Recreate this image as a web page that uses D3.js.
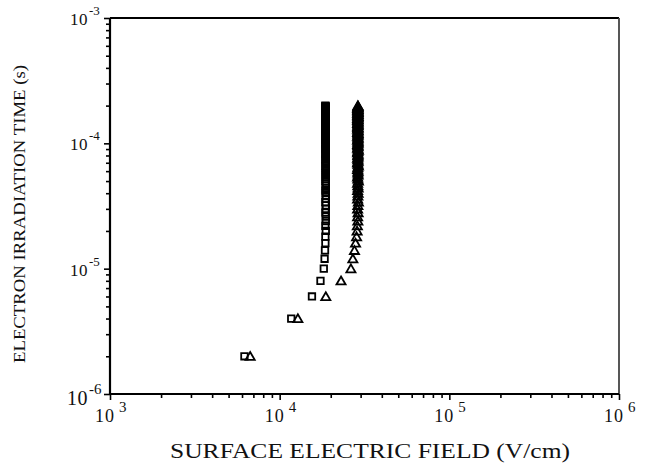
<!DOCTYPE html>
<html>
<head>
<meta charset="utf-8">
<script src="https://cdn.jsdelivr.net/npm/d3@7"></script>
<style>
  body { margin: 0; background: #fff; }
  text { font-family: "Liberation Serif", "DejaVu Serif", serif; fill: #111; }
</style>
</head>
<body>
<div id="chart"></div>
<script>
// irradiation time (microseconds)
var timeUs = [
  2, 4, 6, 8, 10, 12, 14, 16, 18, 20,
  22, 24, 26, 28, 30, 32, 34, 36, 38, 40,
  42, 44, 46, 48, 50, 52, 54, 56, 58, 60,
  62, 64, 66, 68, 70, 72, 74, 76, 78, 80,
  82, 84, 86, 88, 90, 92, 94, 96, 98, 100,
  102, 104, 106, 108, 110, 112, 114, 116, 118, 120,
  122, 124, 126, 128, 130, 132, 134, 136, 138, 140,
  142, 144, 146, 148, 150, 152, 154, 156, 158, 160,
  162, 164, 166, 168, 170, 172, 174, 176, 178, 180,
  182, 184, 186, 188, 190, 192, 194, 196, 198, 200
];

// surface electric field (V/cm), square series
var squareField = [
  6200, 11700, 15500, 17400, 18200, 18400, 18500, 18600, 18600, 18700,
  18600, 18700, 18700, 18600, 18700, 18700, 18600, 18700, 18700, 18700,
  18600, 18700, 18700, 18700, 18600, 18700, 18700, 18700, 18600, 18700,
  18700, 18700, 18600, 18700, 18700, 18700, 18600, 18700, 18700, 18700,
  18600, 18700, 18700, 18700, 18600, 18700, 18700, 18700, 18600, 18700,
  18700, 18700, 18600, 18700, 18700, 18700, 18600, 18700, 18700, 18700,
  18600, 18700, 18700, 18700, 18600, 18700, 18700, 18700, 18600, 18700,
  18700, 18700, 18600, 18700, 18700, 18700, 18600, 18700, 18700, 18700,
  18600, 18700, 18700, 18700, 18600, 18700, 18700, 18700, 18600, 18700,
  18700, 18700, 18600, 18700, 18700, 18700, 18600, 18700, 18600, 18600
];

// surface electric field (V/cm), triangle series
var triangleField = [
  6700, 12800, 18700, 23000, 26300, 27000, 27600, 28000, 28400, 28600,
  28700, 28900, 28800, 29000, 28800, 28900, 29100, 28800, 28900, 29000,
  28800, 29000, 28900, 28800, 29100, 28900, 28800, 29000, 28900, 29000,
  28800, 28900, 29100, 28900, 28800, 29000, 28900, 28800, 29000, 28900,
  29000, 28800, 28900, 29100, 28900, 28800, 29000, 28900, 28800, 29000,
  28900, 29000, 28800, 28900, 29000, 28900, 28800, 29000, 28900, 29000,
  28800, 28900, 29000, 28900, 28800, 29000, 28900, 28800, 29000, 28900,
  29000, 28800, 28900, 29000, 28900, 28800, 29000, 28900, 28800, 29000,
  28900, 29000, 28800, 28900, 29000, 28900, 28800, 29000, 28900, 29000,
  28800, 28900, 29000, 28900, 28800, 29000, 28900, 28900, 29000, 28900
];

var xDecades = [3, 4, 5, 6];
var yDecades = [-3, -4, -5, -6];

var svgWidth = 647;
var svgHeight = 468;

var margin = { top: 18, right: 28, bottom: 74, left: 110 };
var width = svgWidth - margin.left - margin.right;
var height = svgHeight - margin.top - margin.bottom;

var svg = d3.select("#chart")
  .append("svg")
  .attr("width", svgWidth)
  .attr("height", svgHeight);

var chartGroup = svg.append("g")
  .attr("transform", `translate(${margin.left}, ${margin.top})`);

var xScale = d3.scaleLog()
  .domain([1e3, 1e6])
  .range([0, width]);

var yScale = d3.scaleLog()
  .domain([1e-6, 1e-3])
  .range([height, 0]);

// tick values: majors at decades, minors at 2..9
var xMinor = [];
xDecades.slice(0, 3).forEach(function(p) {
  for (var m = 2; m <= 9; m++) xMinor.push(m * Math.pow(10, p));
});
var yMinor = [];
yDecades.slice(0, 3).forEach(function(p) {
  for (var m = 2; m <= 9; m++) yMinor.push(m * Math.pow(10, p - 1));
});

var bottomAxis = d3.axisBottom(xScale)
  .tickValues(xDecades.map(p => Math.pow(10, p)))
  .tickSize(6)
  .tickFormat("");
var bottomMinor = d3.axisBottom(xScale)
  .tickValues(xMinor)
  .tickSize(4)
  .tickFormat("");
var leftAxis = d3.axisLeft(yScale)
  .tickValues(yDecades.map(p => Math.pow(10, p)))
  .tickSize(6)
  .tickFormat("");
var leftMinor = d3.axisLeft(yScale)
  .tickValues(yMinor)
  .tickSize(4)
  .tickFormat("");

chartGroup.append("g")
  .attr("class", "axis")
  .attr("transform", `translate(0, ${height})`)
  .call(bottomAxis);
chartGroup.append("g")
  .attr("class", "axis")
  .attr("transform", `translate(0, ${height})`)
  .call(bottomMinor);
chartGroup.append("g")
  .attr("class", "axis")
  .call(leftAxis);
chartGroup.append("g")
  .attr("class", "axis")
  .call(leftMinor);

chartGroup.selectAll(".axis path").remove();
chartGroup.selectAll(".axis line")
  .attr("stroke", "#000")
  .attr("stroke-width", 1.6);

// frame
chartGroup.append("line")
  .attr("x1", 0).attr("x2", width).attr("y1", 0).attr("y2", 0)
  .attr("stroke", "#000").attr("stroke-width", 2.2);
chartGroup.append("line")
  .attr("x1", width).attr("x2", width).attr("y1", 0).attr("y2", height)
  .attr("stroke", "#444").attr("stroke-width", 1.8);
chartGroup.append("line")
  .attr("x1", 0).attr("x2", 0).attr("y1", 0).attr("y2", height)
  .attr("stroke", "#000").attr("stroke-width", 2.2);
chartGroup.append("line")
  .attr("x1", 0).attr("x2", width).attr("y1", height).attr("y2", height)
  .attr("stroke", "#000").attr("stroke-width", 2.2);

// y tick labels
yDecades.forEach(function(p) {
  var big = p === -6;
  var y = yScale(Math.pow(10, p));
  chartGroup.append("text")
    .attr("x", -22)
    .attr("y", y + (big ? 11 : 7))
    .attr("text-anchor", "end")
    .style("font-size", big ? "20px" : "17px")
    .style("letter-spacing", "0.5px")
    .text("10");
  chartGroup.append("text")
    .attr("x", -21)
    .attr("y", y + (big ? 0 : -3))
    .style("font-size", big ? "15px" : "13px")
    .text(p);
});

// x tick labels
xDecades.forEach(function(p) {
  var x = xScale(Math.pow(10, p));
  chartGroup.append("text")
    .attr("x", x + 5)
    .attr("y", height + 28)
    .attr("text-anchor", "end")
    .style("font-size", "18px")
    .style("letter-spacing", "1px")
    .text("10");
  chartGroup.append("text")
    .attr("x", x + 9)
    .attr("y", height + 18)
    .style("font-size", "15px")
    .text(p);
});

// points
var points = timeUs.map(function(t, i) {
  return { t: t * 1e-6, sq: squareField[i], tri: triangleField[i] };
});

chartGroup.selectAll(".sq")
  .data(points)
  .enter()
  .append("path")
  .attr("class", "sq")
  .attr("d", d3.symbol().type(d3.symbolSquare).size(42))
  .attr("transform", d => `translate(${xScale(d.sq)}, ${yScale(d.t)})`)
  .attr("fill", "none")
  .attr("stroke", "#000")
  .attr("stroke-width", 1.8);

chartGroup.selectAll(".tri")
  .data(points)
  .enter()
  .append("path")
  .attr("class", "tri")
  .attr("d", d3.symbol().type(d3.symbolTriangle).size(36))
  .attr("transform", d => `translate(${xScale(d.tri)}, ${yScale(d.t) + 1})`)
  .attr("fill", "none")
  .attr("stroke", "#000")
  .attr("stroke-width", 1.8);

// axis titles
svg.append("text")
  .attr("transform", `translate(25, 214) rotate(-90)`)
  .attr("text-anchor", "middle")
  .attr("textLength", 298)
  .attr("lengthAdjust", "spacingAndGlyphs")
  .style("font-size", "17px")
  .text("ELECTRON IRRADIATION TIME (s)");

svg.append("text")
  .attr("x", 370)
  .attr("y", 458)
  .attr("text-anchor", "middle")
  .attr("textLength", 400)
  .attr("lengthAdjust", "spacingAndGlyphs")
  .style("font-size", "20px")
  .text("SURFACE ELECTRIC FIELD (V/cm)");
</script>
</body>
</html>
